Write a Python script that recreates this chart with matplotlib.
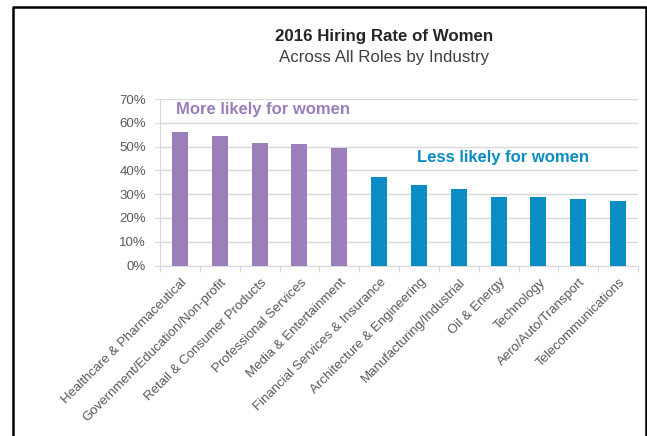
import matplotlib.pyplot as plt
import numpy as np
from matplotlib.lines import Line2D

# data
industries = ["Healthcare & Pharmaceutical", "Government/Education/Non-profit",
              "Retail & Consumer Products", "Professional Services",
              "Media & Entertainment", "Financial Services & Insurance",
              "Architecture & Engineering", "Manufacturing/Industrial",
              "Oil & Energy", "Technology", "Aero/Auto/Transport",
              "Telecommunications"]
hire_rate = [56.0, 54.5, 51.5, 51.0, 49.5, 37.0, 34.0, 32.3, 28.8, 28.8, 28.0, 27.3]
n_more = 5

purple = "#9a7fba"
blue = "#0a8cc4"
grey_txt = "#595959"

plt.rcParams['font.family'] = ['Liberation Sans', 'DejaVu Sans']

fig = plt.figure(figsize=(6.47, 4.36), dpi=100)
ax = fig.add_axes([160 / 647, 1 - 265.5 / 436, 478 / 647, 166.5 / 436])

x = np.arange(len(industries))
colors = [purple] * n_more + [blue] * (len(industries) - n_more)
ax.bar(x, hire_rate, width=0.4, color=colors, zorder=3)

ax.set_xlim(-0.5, len(industries) - 0.5)
ax.set_ylim(0, 70)
ax.set_yticks(np.arange(0, 71, 10))
ax.set_yticklabels(["%d%%" % v for v in range(0, 71, 10)], color=grey_txt, fontsize=9.5)
ax.yaxis.grid(True, color="#d9d9d9", linewidth=1, zorder=0)
ax.tick_params(axis='y', length=4, color="#d9d9d9", pad=6)

# category boundary ticks on x axis
ax.set_xticks(np.arange(-0.5, len(industries), 1.0))
ax.set_xticklabels([])
ax.tick_params(axis='x', length=4, color="#d9d9d9")
for i, name in enumerate(industries):
    ax.text(i + 0.02, -4.5, name, rotation=45, ha='right', va='top',
            rotation_mode='anchor', fontsize=9.5, color=grey_txt)

for s in ['top', 'right']:
    ax.spines[s].set_visible(False)
ax.spines['left'].set_color("#d9d9d9")
ax.spines['bottom'].set_color("#d9d9d9")

ax.text(-0.1, 65.5, "More likely for women", color=purple, fontsize=12,
        fontweight='bold', va='center', ha='left')
ax.text(8.1, 45.2, "Less likely for women", color=blue, fontsize=12,
        fontweight='bold', va='center', ha='center')

fig.text(384 / 647, 1 - 37 / 436, "2016 Hiring Rate of Women", ha='center', va='center',
         fontsize=12.2, fontweight='bold', color="#262626")
fig.text(384 / 647, 1 - 57 / 436, "Across All Roles by Industry", ha='center', va='center',
         fontsize=12.2, color="#404040")

# outer frame (open at bottom)
fig.add_artist(Line2D([12.5 / 647, 12.5 / 647, 645.5 / 647, 645.5 / 647],
                      [0, 1 - 7 / 436, 1 - 7 / 436, 0],
                      transform=fig.transFigure, color="black", linewidth=1.8))

fig.savefig("out.png", dpi=100)
